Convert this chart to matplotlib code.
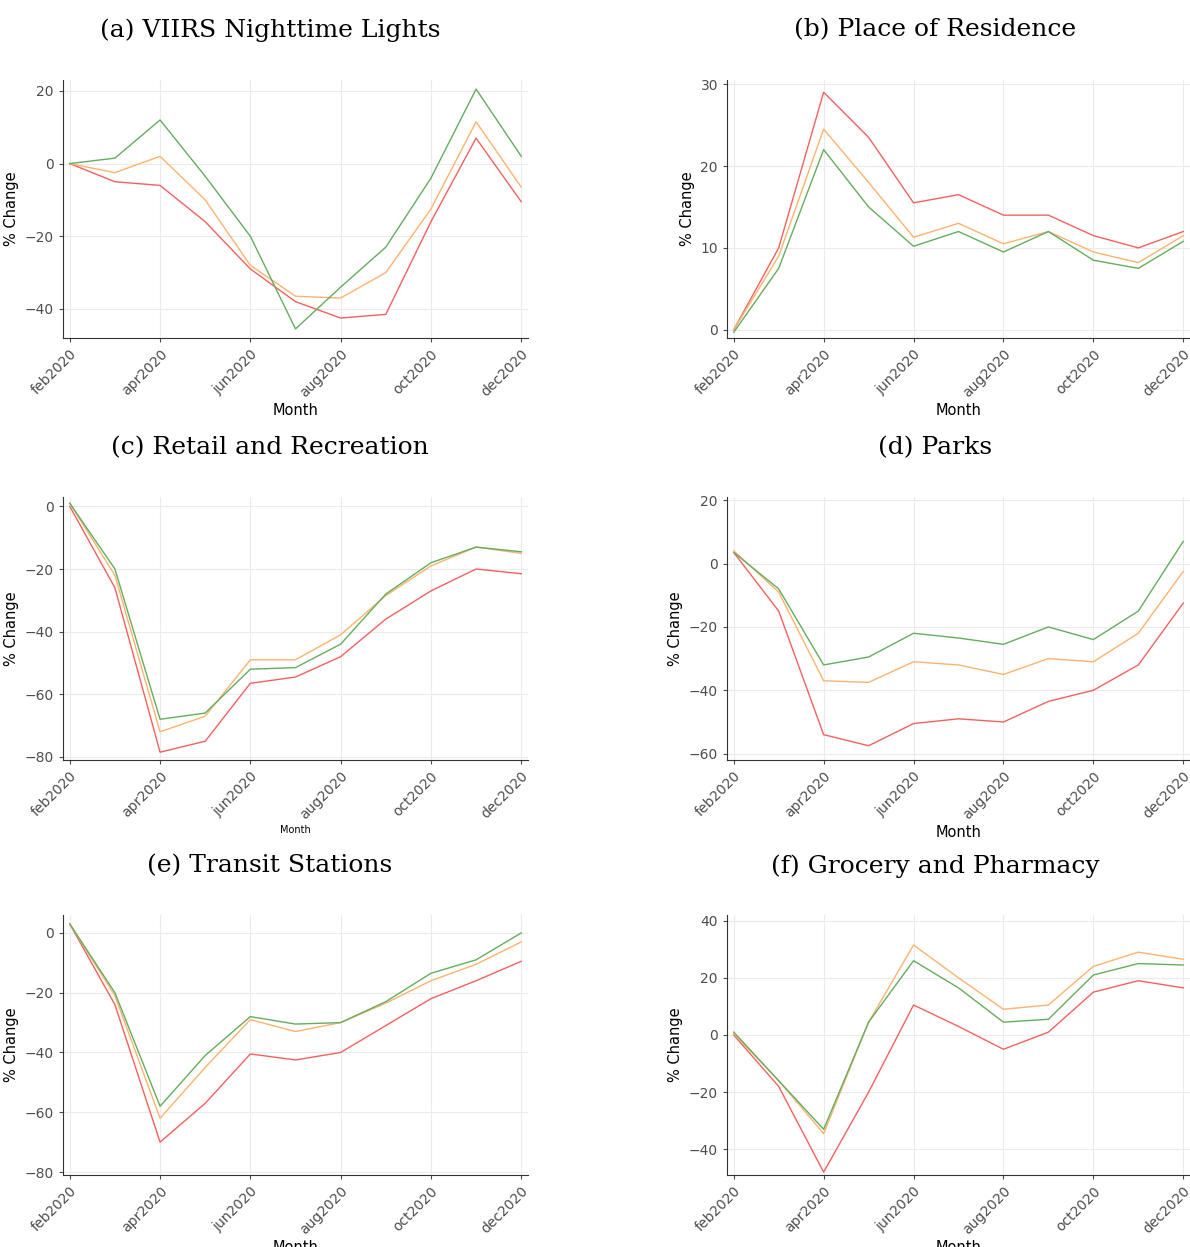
import matplotlib
matplotlib.use("Agg")
import matplotlib.pyplot as plt
import numpy as np

months = ["feb2020","mar2020","apr2020","may2020","jun2020","jul2020","aug2020","sep2020","oct2020","nov2020","dec2020"]
tick_labels = ["feb2020","apr2020","jun2020","aug2020","oct2020","dec2020"]

titles = ["(a) VIIRS Nighttime Lights","(b) Place of Residence","(c) Retail and Recreation",
          "(d) Parks","(e) Transit Stations","(f) Grocery and Pharmacy"]

a_green = [0, 1.5, 12, -3.5, -20, -45.5, -34, -23, -4, 20.5, 2]
a_orange = [0, -2.5, 2, -10, -28, -36.5, -37, -30, -12.5, 11.5, -6.5]
a_red = [0, -5, -6, -16, -29, -38, -42.5, -41.5, -16, 7, -10.5]

b_green = [-0.3, 7.5, 22, 15, 10.2, 12, 9.5, 12, 8.5, 7.5, 10.8]
b_orange = [0, 9, 24.5, 18, 11.3, 13, 10.5, 12, 9.5, 8.2, 11.5]
b_red = [0, 10, 29, 23.5, 15.5, 16.5, 14, 14, 11.5, 10, 12]

c_green = [1, -20, -68, -66, -52, -51.5, -44, -28, -18, -13, -14.5]
c_orange = [1, -22, -72, -67, -49, -49, -41, -28.5, -19, -13, -15]
c_red = [0, -26, -78.5, -75, -56.5, -54.5, -48, -36, -27, -20, -21.5]

d_green = [3.5, -8, -32, -29.5, -22, -23.5, -25.5, -20, -24, -15, 7]
d_orange = [4, -9, -37, -37.5, -31, -32, -35, -30, -31, -22, -2.5]
d_red = [3.5, -15, -54, -57.5, -50.5, -49, -50, -43.5, -40, -32, -12.5]

e_green = [3, -20, -58, -41, -28, -30.5, -30, -23, -13.5, -9, 0]
e_orange = [3, -21, -62, -45, -29, -33, -30, -23.5, -16, -10.5, -3]
e_red = [3, -24, -70, -57, -40.5, -42.5, -40, -31, -22, -16, -9.5]

f_green = [1, -16, -33, 4.5, 26, 16.5, 4.5, 5.5, 21, 25, 24.5]
f_orange = [0.5, -16, -34.5, 4.5, 31.5, 20, 9, 10.5, 24, 29, 26.5]
f_red = [0, -18, -48, -20, 10.5, 3, -5, 1, 15, 19, 16.5]

panels = [(a_red, a_orange, a_green, [-40,-20,0,20], (-48,23)),
          (b_red, b_orange, b_green, [0,10,20,30], (-1,30.5)),
          (c_red, c_orange, c_green, [-80,-60,-40,-20,0], (-81,3)),
          (d_red, d_orange, d_green, [-60,-40,-20,0,20], (-62,21)),
          (e_red, e_orange, e_green, [-80,-60,-40,-20,0], (-81,6)),
          (f_red, f_orange, f_green, [-40,-20,0,20,40], (-49,42))]

RED, ORANGE, GREEN = "#f46060", "#fdb36e", "#64ad5e"

W, H = 1190, 1247
fig = plt.figure(figsize=(W/100, H/100), dpi=100)
boxes = [(63, 80, 528, 338), (727, 80, 1190, 338),
         (63, 497, 528, 760), (727, 497, 1190, 760),
         (63, 915, 528, 1175), (727, 915, 1190, 1175)]
title_y = [30, 30, 448, 448, 866, 866]
title_x = [270, 935, 270, 935, 270, 935]

x = np.arange(len(months))
for i, (box, p) in enumerate(zip(boxes, panels)):
    l, t, r, b = box
    ax = fig.add_axes([l/W, 1-b/H, (r-l)/W, (b-t)/H])
    red, orange, green, yt, yl = p
    ax.plot(x, red, color=RED, lw=1)
    ax.plot(x, orange, color=ORANGE, lw=1)
    ax.plot(x, green, color=GREEN, lw=1)
    ax.set_xlim(-0.15, 10.15)
    ax.set_ylim(*yl)
    ax.set_yticks(yt)
    ax.set_xticks(x[::2])
    ax.set_xticklabels(tick_labels, rotation=45, ha="right", rotation_mode="anchor")
    ax.grid(True, color="#ebebeb", lw=0.8)
    ax.set_axisbelow(True)
    for s in ["top", "right"]:
        ax.spines[s].set_visible(False)
    for s in ["left", "bottom"]:
        ax.spines[s].set_color("#333333")
        ax.spines[s].set_linewidth(0.8)
    ax.tick_params(labelsize=10, colors="#4d4d4d", length=3)
    ax.set_ylabel("% Change", fontsize=10.5)
    ax.set_xlabel("Month", fontsize=7 if i == 2 else 10.5, labelpad=2)
    fig.text(title_x[i]/W, 1-title_y[i]/H, titles[i], ha="center", va="center",
             fontsize=18, family="DejaVu Serif")

fig.savefig("out.png", dpi=100)
